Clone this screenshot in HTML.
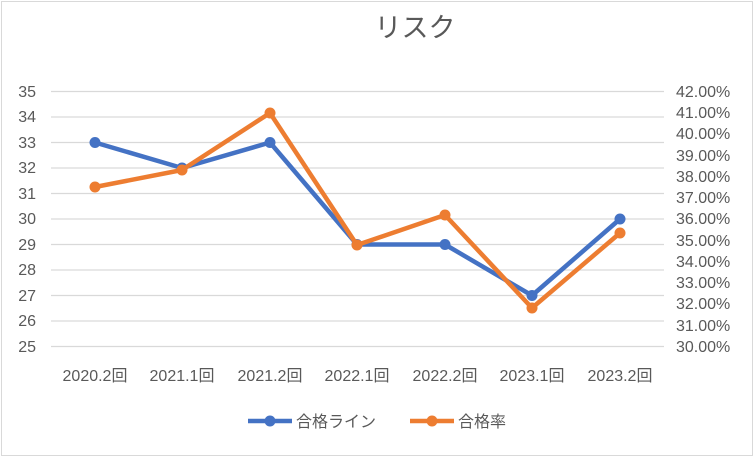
<!DOCTYPE html><html><head><meta charset="utf-8"><style>body{margin:0;background:#fff}</style></head><body>
<svg width="755" height="458" xmlns="http://www.w3.org/2000/svg" font-family="Liberation Sans, Noto Sans CJK JP, sans-serif">
<rect x="1.5" y="1.5" width="751" height="454" fill="#fff" stroke="#d9d9d9"/>
<text x="415" y="37" font-size="27" fill="#595959" text-anchor="middle">リスク</text>
<g stroke="#d9d9d9" stroke-width="1.3">
<line x1="51" x2="664" y1="91.5" y2="91.5"/><line x1="51" x2="664" y1="117" y2="117"/><line x1="51" x2="664" y1="142.5" y2="142.5"/><line x1="51" x2="664" y1="168" y2="168"/><line x1="51" x2="664" y1="193.5" y2="193.5"/><line x1="51" x2="664" y1="219" y2="219"/><line x1="51" x2="664" y1="244.5" y2="244.5"/><line x1="51" x2="664" y1="270" y2="270"/><line x1="51" x2="664" y1="295.5" y2="295.5"/><line x1="51" x2="664" y1="321" y2="321"/><line x1="51" x2="664" y1="346.5" y2="346.5"/>
</g>
<g font-size="16" fill="#595959" text-anchor="end">
<text x="36" y="97">35</text><text x="36" y="122">34</text><text x="36" y="148">33</text><text x="36" y="173">32</text><text x="36" y="199">31</text><text x="36" y="224">30</text><text x="36" y="250">29</text><text x="36" y="275">28</text><text x="36" y="301">27</text><text x="36" y="326">26</text><text x="36" y="352">25</text>
</g>
<g font-size="16" fill="#595959" text-anchor="start">
<text x="676" y="97">42.00%</text><text x="676" y="118">41.00%</text><text x="676" y="139">40.00%</text><text x="676" y="161">39.00%</text><text x="676" y="182">38.00%</text><text x="676" y="203">37.00%</text><text x="676" y="224">36.00%</text><text x="676" y="246">35.00%</text><text x="676" y="267">34.00%</text><text x="676" y="288">33.00%</text><text x="676" y="309">32.00%</text><text x="676" y="331">31.00%</text><text x="676" y="352">30.00%</text>
</g>
<g font-size="16" fill="#595959" text-anchor="middle">
<text x="95" y="381">2020.2回</text><text x="182" y="381">2021.1回</text><text x="270" y="381">2021.2回</text><text x="357" y="381">2022.1回</text><text x="445" y="381">2022.2回</text><text x="532" y="381">2023.1回</text><text x="620" y="381">2023.2回</text>
</g>
<g stroke="#4472c4" stroke-width="4.5" fill="#4472c4" stroke-linejoin="round">
<polyline fill="none" points="95,142.5 182,168 270,142.5 357,244.5 445,244.5 532,295.5 620,219"/>
<g stroke="none"><circle cx="95" cy="142.5" r="5.5"/><circle cx="182" cy="168" r="5.5"/><circle cx="270" cy="142.5" r="5.5"/><circle cx="357" cy="244.5" r="5.5"/><circle cx="445" cy="244.5" r="5.5"/><circle cx="532" cy="295.5" r="5.5"/><circle cx="620" cy="219" r="5.5"/></g>
</g>
<g stroke="#ed7d31" stroke-width="4.5" fill="#ed7d31" stroke-linejoin="round">
<polyline fill="none" points="95,187 182,170 270,113 357,245 445,215 532,308 620,233"/>
<g stroke="none"><circle cx="95" cy="187" r="5.5"/><circle cx="182" cy="170" r="5.5"/><circle cx="270" cy="113" r="5.5"/><circle cx="357" cy="245" r="5.5"/><circle cx="445" cy="215" r="5.5"/><circle cx="532" cy="308" r="5.5"/><circle cx="620" cy="233" r="5.5"/></g>
</g>
<line x1="248" x2="292" y1="421" y2="421" stroke="#4472c4" stroke-width="4.5"/><circle cx="270" cy="421" r="5.5" fill="#4472c4"/>
<text x="296" y="427" font-size="16" fill="#595959">合格ライン</text>
<line x1="410" x2="454" y1="421" y2="421" stroke="#ed7d31" stroke-width="4.5"/><circle cx="432" cy="421" r="5.5" fill="#ed7d31"/>
<text x="458" y="427" font-size="16" fill="#595959">合格率</text>
</svg>
</body></html>
